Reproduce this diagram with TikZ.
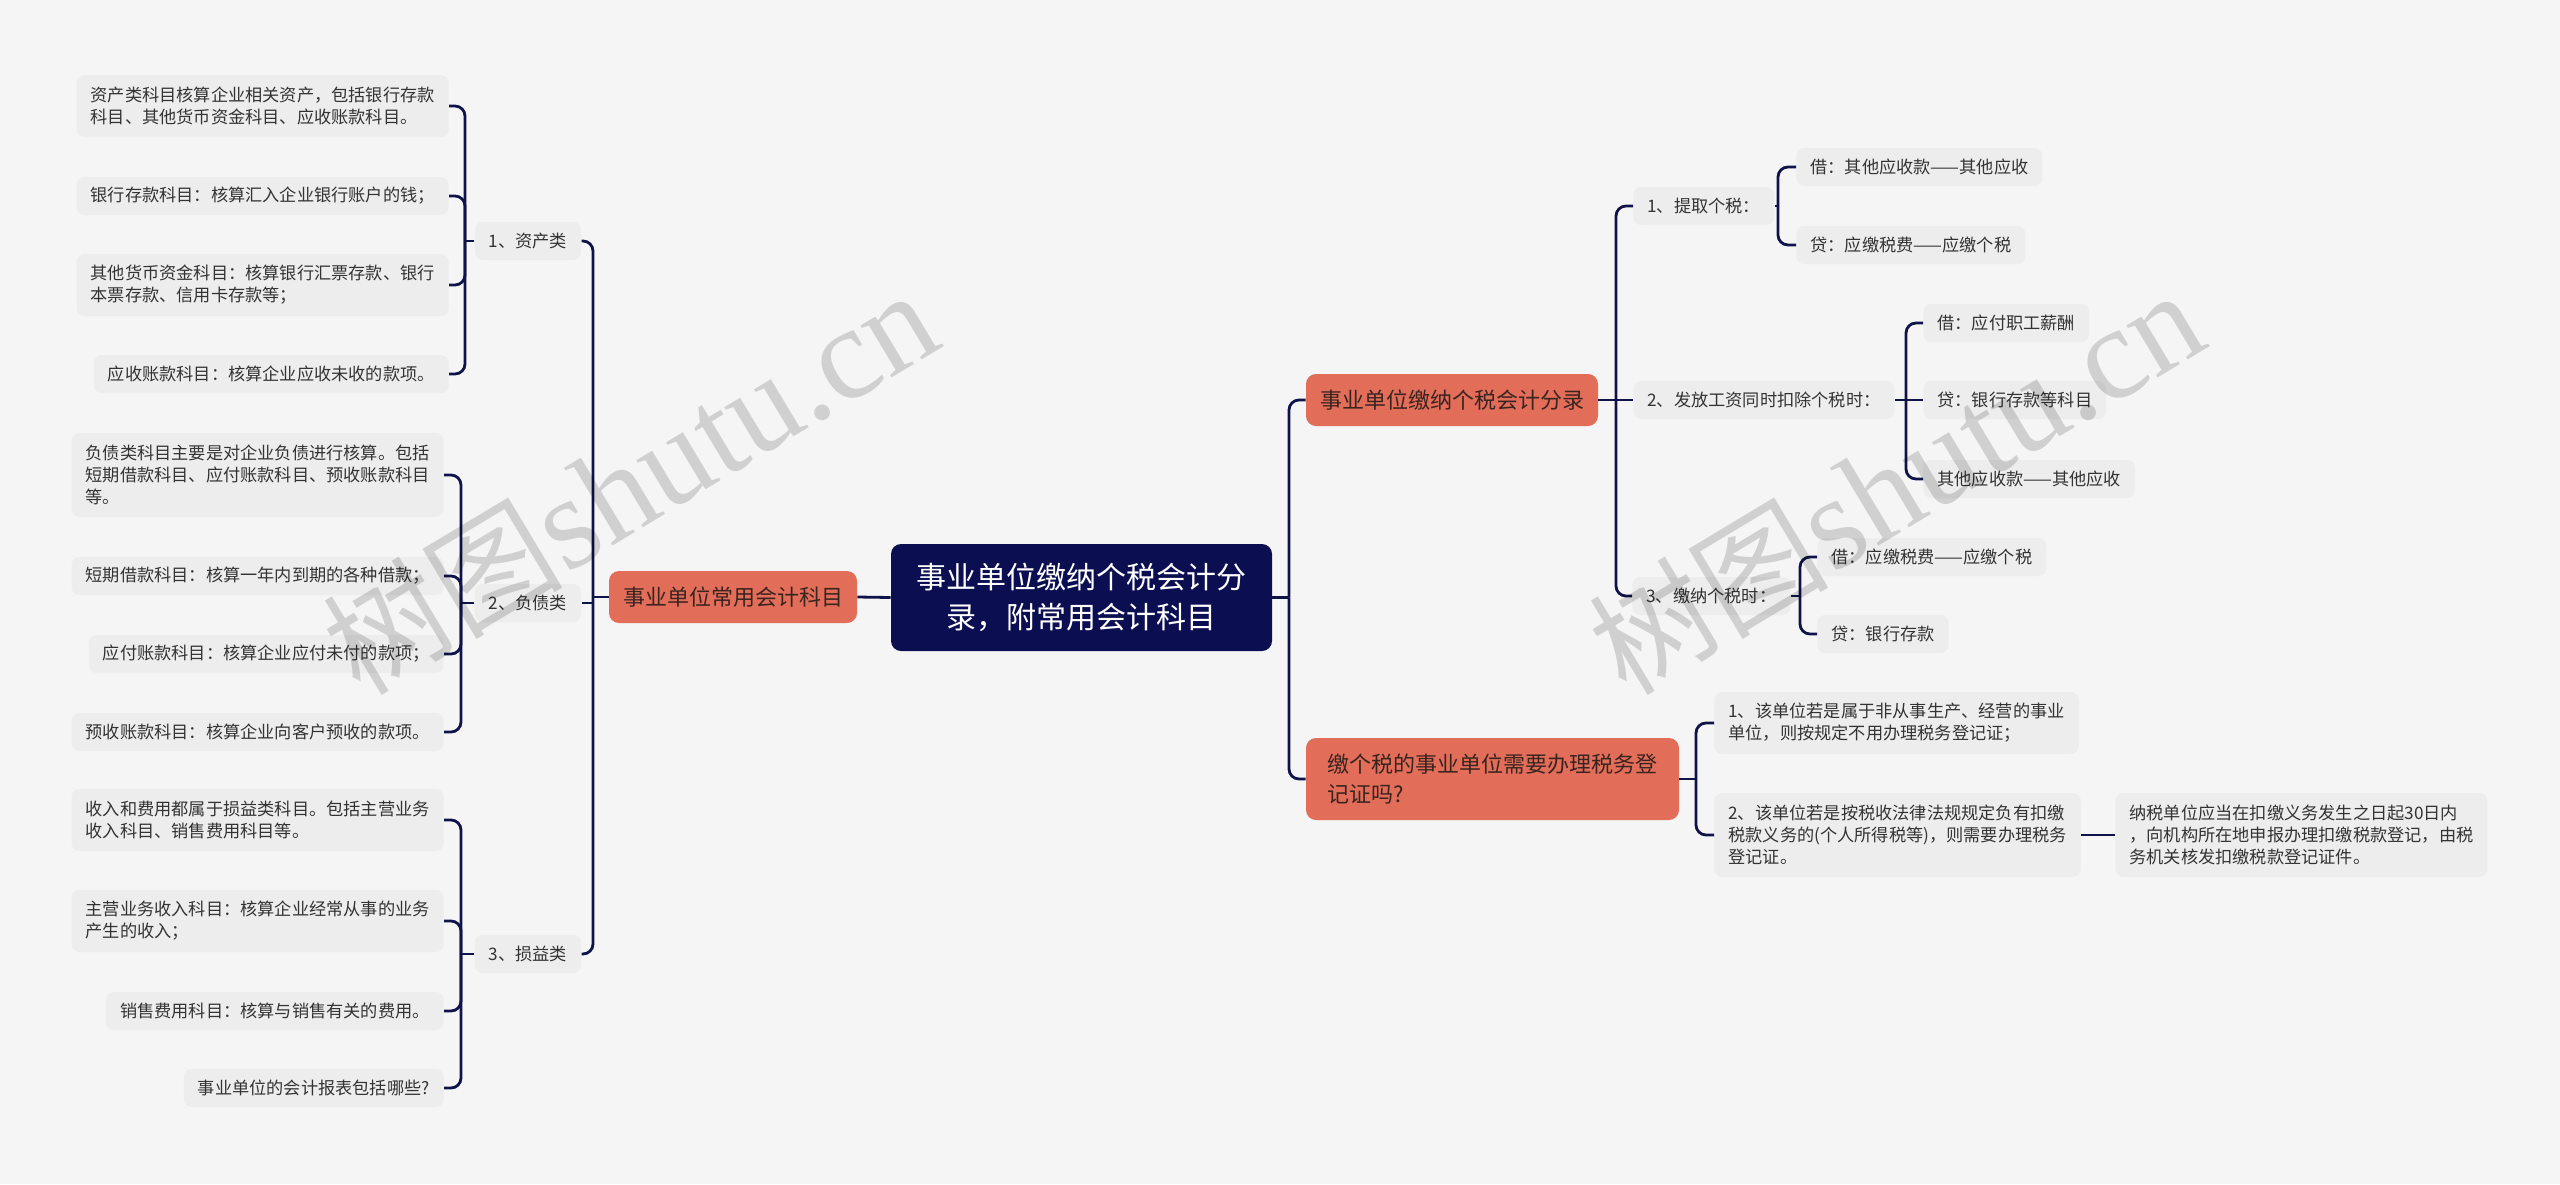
\documentclass[tikz,border=0pt]{standalone}
\usepackage{fontspec}
\setmainfont{Noto Sans CJK SC}
\newfontfamily\wmlatin{Liberation Serif}

\definecolor{bgc}{HTML}{F5F5F5}
\definecolor{navy}{HTML}{0B0F52}
\definecolor{linec}{HTML}{10134A}
\definecolor{orangec}{HTML}{E26D59}
\definecolor{leaffill}{HTML}{EDEDED}
\definecolor{leaftext}{HTML}{333333}
\definecolor{maintext}{HTML}{3A2420}

\tikzset{
 leaf/.style={fill=leaffill, rounded corners=4pt, text=leaftext, font=\fontsize{8.6}{11}\selectfont, align=left, inner xsep=7pt, inner ysep=2pt, minimum height=19pt},
 two/.style={minimum height=31pt},
 three/.style={minimum height=42pt},
 mainnode/.style={fill=orangec, rounded corners=5pt, text=maintext, font=\fontsize{11}{15}\selectfont, align=left, inner sep=0pt},
 rootnode/.style={fill=navy, rounded corners=5pt, text=white, font=\fontsize{15}{20}\selectfont, align=center, inner sep=0pt, minimum width=190.5pt, minimum height=53.5pt},
 conn/.style={draw=linec, line width=1.4pt},
 rc/.style={conn, rounded corners=5pt},
 wm/.style={text=black, text opacity=0.15, rotate=31, anchor=base west, inner sep=0pt}
}

\begin{document}
\begin{tikzpicture}[x=0.5pt,y=-0.5pt]
\fill[bgc] (0,0) rectangle (2560,1184);
\useasboundingbox (0,0) rectangle (2560,1184);

% root and main nodes
\node[rootnode] (root) at (1081.5,597.5) {事业单位缴纳个税会计分\\录，附常用会计科目};
\node[mainnode, minimum width=124pt, minimum height=26pt] (lm) at (733,597) {事业单位常用会计科目};
\node[mainnode, minimum width=146pt, minimum height=26pt] (r1) at (1452,400) {事业单位缴纳个税会计分录};
\node[mainnode, minimum width=186.5pt, minimum height=41pt] (r2) at (1492.5,779) {缴个税的事业单位需要办理税务登\\记证吗?};

% left level 2
\node[leaf, minimum width=48pt] (A1) at (528,241) {1、资产类};
\node[leaf, minimum width=48pt] (A2) at (528,603) {2、负债类};
\node[leaf, minimum width=48pt] (A3) at (528,954) {3、损益类};

% left leaves
\node[leaf, two, anchor=east] (L1a) at (449,106) {资产类科目核算企业相关资产，包括银行存款\\科目、其他货币资金科目、应收账款科目。};
\node[leaf, anchor=east] (L1b) at (449,196) {银行存款科目：核算汇入企业银行账户的钱；};
\node[leaf, two, anchor=east] (L1c) at (449,285) {其他货币资金科目：核算银行汇票存款、银行\\本票存款、信用卡存款等；};
\node[leaf, anchor=east] (L1d) at (449,374) {应收账款科目：核算企业应收未收的款项。};

\node[leaf, three, anchor=east] (L2a) at (444,475) {负债类科目主要是对企业负债进行核算。包括\\短期借款科目、应付账款科目、预收账款科目\\等。};
\node[leaf, anchor=east] (L2b) at (444,576) {短期借款科目：核算一年内到期的各种借款；};
\node[leaf, anchor=east] (L2c) at (444,654) {应付账款科目：核算企业应付未付的款项；};
\node[leaf, anchor=east] (L2d) at (444,732) {预收账款科目：核算企业向客户预收的款项。};

\node[leaf, two, anchor=east] (L3a) at (444,820) {收入和费用都属于损益类科目。包括主营业务\\收入科目、销售费用科目等。};
\node[leaf, two, anchor=east] (L3b) at (444,921) {主营业务收入科目：核算企业经常从事的业务\\产生的收入；};
\node[leaf, anchor=east] (L3c) at (444,1011) {销售费用科目：核算与销售有关的费用。};
\node[leaf, anchor=east] (L3d) at (444,1088) {事业单位的会计报表包括哪些?};

% right level 2
\node[leaf, anchor=west] (B1) at (1633,206) {1、提取个税：};
\node[leaf, anchor=west] (B2) at (1633,400) {2、发放工资同时扣除个税时：};
\node[leaf, anchor=west] (B3) at (1632,596) {3、缴纳个税时：};

\node[leaf, anchor=west] (C11) at (1796,167) {借：其他应收款——其他应收};
\node[leaf, anchor=west] (C12) at (1796,245) {贷：应缴税费——应缴个税};
\node[leaf, anchor=west] (C21) at (1923,323) {借：应付职工薪酬};
\node[leaf, anchor=west] (C22) at (1923,400) {贷：银行存款等科目};
\node[leaf, anchor=west] (C23) at (1923,479) {其他应收款——其他应收};
\node[leaf, anchor=west] (C31) at (1817,557) {借：应缴税费——应缴个税};
\node[leaf, anchor=west] (C32) at (1817,634) {贷：银行存款};

\node[leaf, two, anchor=west] (D1) at (1714,723) {1、该单位若是属于非从事生产、经营的事业\\单位，则按规定不用办理税务登记证；};
\node[leaf, three, anchor=west] (D2) at (1714,835) {2、该单位若是按税收法律法规规定负有扣缴\\税款义务的(个人所得税等)，则需要办理税务\\登记证。};
\node[leaf, three, anchor=west] (E) at (2115,835) {纳税单位应当在扣缴义务发生之日起30日内\\，向机构所在地申报办理扣缴税款登记，由税\\务机关核发扣缴税款登记证件。};

% connectors: root
\draw[conn] (root.west) -- (lm.east);
\draw[conn] (root.east) -- (1289,597.5);
\draw[rc] (1289,597.5) |- (r1.west);
\draw[rc] (1289,597.5) |- (r2.west);

% left trunk
\draw[conn] (lm.west) -- (593,597);
\draw[rc] (593,597) |- (A1.east);
\draw[rc] (593,597) |- (A3.east);
\draw[conn] (593,603) -- (A2.east);

\draw[conn] (A1.west) -- (465,241);
\foreach \n in {L1a,L1b,L1c,L1d} { \draw[rc] (465,241) |- (\n.east); }
\draw[conn] (A2.west) -- (461,603);
\foreach \n in {L2a,L2b,L2c,L2d} { \draw[rc] (461,603) |- (\n.east); }
\draw[conn] (A3.west) -- (461,954);
\foreach \n in {L3a,L3b,L3c,L3d} { \draw[rc] (461,954) |- (\n.east); }

% right branch 1
\draw[conn] (r1.east) -- (1616,400);
\draw[rc] (1616,400) |- (B1.west);
\draw[rc] (1616,400) |- (B3.west);
\draw[conn] (1616,400) -- (B2.west);

\draw[conn] (B1.east) -- (1778,206);
\draw[rc] (1778,206) |- (C11.west);
\draw[rc] (1778,206) |- (C12.west);
\draw[conn] (B2.east) -- (1906,400);
\draw[rc] (1906,400) |- (C21.west);
\draw[rc] (1906,400) |- (C23.west);
\draw[conn] (1906,400) -- (C22.west);
\draw[conn] (B3.east) -- (1800,596);
\draw[rc] (1800,596) |- (C31.west);
\draw[rc] (1800,596) |- (C32.west);

% right branch 2
\draw[conn] (r2.east) -- (1696,779);
\draw[rc] (1696,779) |- (D1.west);
\draw[rc] (1696,779) |- (D2.west);
\draw[conn] (D2.east) -- (E.west);

% watermarks
\node[wm] (wm1) at (360,698) {\fontsize{60}{60}\selectfont 树图{\wmlatin\fontsize{66}{66}\selectfont shutu.cn}};
\node[wm] (wm2) at (1626,698) {\fontsize{60}{60}\selectfont 树图{\wmlatin\fontsize{66}{66}\selectfont shutu.cn}};
\end{tikzpicture}
\end{document}
